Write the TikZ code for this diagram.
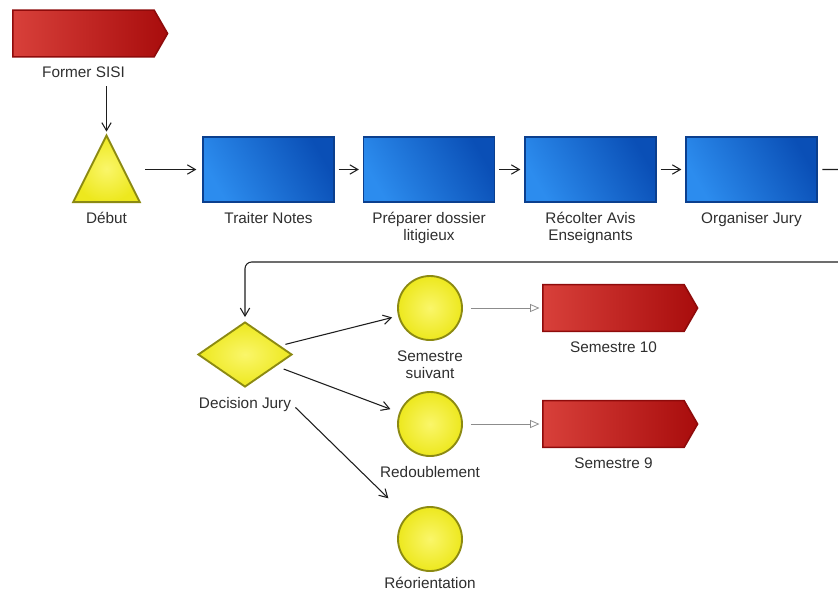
\documentclass[tikz,border=0pt]{standalone}
\usepackage{fontspec}
\setmainfont{Liberation Sans}
\usetikzlibrary{positioning,arrows.meta,shapes.geometric,shapes.symbols}
\definecolor{jurRed}{HTML}{D8403A}
\definecolor{jurRedDk}{HTML}{A80C0C}
\definecolor{jurRedLn}{HTML}{8E0B0B}
\definecolor{jurBlue}{HTML}{2C8CEE}
\definecolor{jurBlueDk}{HTML}{0A4FB6}
\definecolor{jurBlueLn}{HTML}{0B3F8E}
\definecolor{jurYel}{HTML}{FAF66A}
\definecolor{jurYelDk}{HTML}{EDE81E}
\definecolor{jurYelLn}{HTML}{8C8A12}
\definecolor{jurInk}{HTML}{1E1E1E}
\definecolor{jurGrey}{HTML}{8C8C8C}
\definecolor{jurText}{HTML}{2E2E2E}
\tikzset{
  flag/.style={
    signal, signal to=east, signal pointer angle=120, draw=jurRedLn,
    line width=1.2pt, left color=jurRed, right color=jurRedDk,
    minimum width=116pt, minimum height=35pt, inner sep=0pt},
  task/.style={
    rectangle, draw=jurBlueLn, line width=1.2pt, left color=jurBlue,
    right color=jurBlueDk, shading angle=120,
    minimum width=98pt, minimum height=48.75pt, inner sep=0pt},
  start/.style={
    isosceles triangle, shape border rotate=90, isosceles triangle stretches,
    draw=jurYelLn, line width=1.4pt, inner color=jurYel, outer color=jurYelDk,
    minimum width=50pt, minimum height=50pt, inner sep=0pt},
  choice/.style={
    diamond, draw=jurYelLn, line width=1.4pt, inner color=jurYel,
    outer color=jurYelDk, minimum width=70.5pt, minimum height=48.75pt,
    inner sep=0pt},
  state/.style={
    circle, draw=jurYelLn, line width=1.4pt, inner color=jurYel,
    outer color=jurYelDk, minimum size=48pt, inner sep=0pt},
  lbl/.style={font=\fontsize{11.5}{12.75}\selectfont, text=jurText,
    align=center, inner sep=1pt},
  flow/.style={draw=jurInk, line width=0.8pt,
    -{Straight Barb[length=6pt,width=7pt]}},
  feed/.style={draw=jurGrey, line width=0.6pt,
    -{Triangle[open, length=7pt, width=6pt]}},
}
\begin{document}
\begin{tikzpicture}[x=0.75pt, y=-0.75pt, label distance=6pt]
\useasboundingbox (0,0) rectangle (838,594);
\clip (0,0) rectangle (838,594);

\node[flag, label={[lbl,name=lFS]below:Former SISI}] (fs) at (83.5,33.5) {};
\node[start, label={[lbl,name=lDeb]below:Début}] (deb) at (106.5,181.5) {};

\foreach \nm/\x/\txt in {tn/268.5/Traiter Notes, pd/429/{Préparer dossier\\litigieux},
                        ra/590.5/{Récolter Avis\\Enseignants}, oj/751.5/Organiser Jury} {
  \node[task, label={[lbl,name=l\nm]below:\txt}] (\nm) at (\x,169.5) {};
}

\node[choice, label={[lbl,name=lDec]below:Decision Jury}] (dec) at (245,354.5) {};
\node[state, label={[lbl,name=lSS]below:Semestre\\suivant}] (ss) at (430,308) {};
\node[state, label={[lbl,name=lRd]below:Redoublement}] (rd) at (430,424) {};
\node[state, label={[lbl,name=lRo,label distance=3pt]below:Réorientation}] (ro) at (430,539) {};
\node[flag, label={[lbl,name=lS10]below:Semestre 10}] (s10) at (613.5,308) {};
\node[flag, label={[lbl,name=lS9]below:Semestre 9}] (s9) at (613.5,424) {};

\coordinate (turn) at (870,262);

\draw[flow, shorten <=5pt, shorten >=1pt] (lFS.south -| deb.north) -- (deb.north);
\draw[flow, shorten <=11pt, shorten >=4.5pt] (deb.east |- tn.west) -- (tn.west);
\foreach \a/\b in {tn/pd,pd/ra,ra/oj} {
  \draw[flow, shorten <=3pt, shorten >=3pt] (\a) -- (\b);
}
\draw[flow, rounded corners=5pt, shorten <=3.5pt, shorten >=3pt]
  (oj.east) -| (turn) -| (dec.north);

\draw[flow, shorten <=4pt, shorten >=4.5pt] (dec) -- (ss);
\draw[flow, shorten <=6pt, shorten >=7pt] (dec) -- (rd);
\draw[flow, shorten <=3pt, shorten >=19pt] (lDec.east) -- (ro);

\draw[feed, shorten <=6pt, shorten >=2pt] (ss) -- (s10);
\draw[feed, shorten <=6pt, shorten >=2pt] (rd) -- (s9);

\end{tikzpicture}
\end{document}
